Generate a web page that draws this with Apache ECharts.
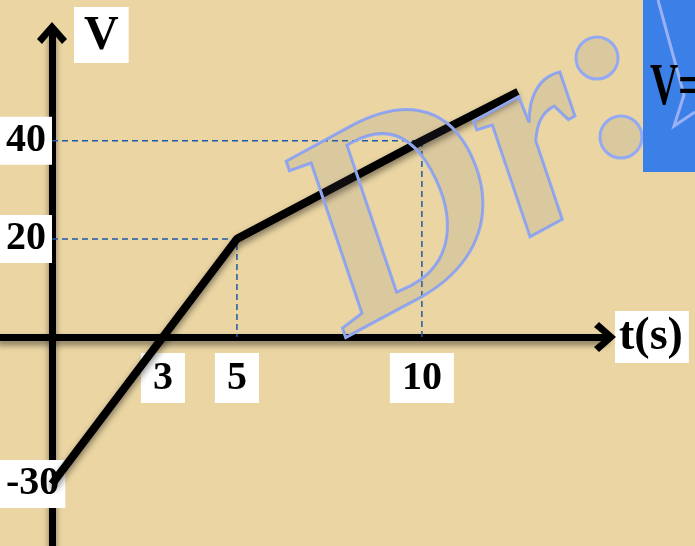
<!DOCTYPE html>
<html>
<head>
<meta charset="utf-8">
<script src="https://cdn.jsdelivr.net/npm/echarts@6/dist/echarts.min.js"></script>
<style>
  html, body { margin: 0; padding: 0; }
  #chart { width: 695px; height: 546px; }
</style>
</head>
<body>
<div id="chart"></div>
<script>
// velocity - time data (from the labelled points)
const timeValues = [0, 5, 10, 12.6];
const velocityValues = [-30, 20, 40, 50];
// tick labels shown on the axes
const timeTicks = [3, 5, 10];
const velocityTicks = [-30, 20, 40];
// dashed guide lines (t, v)
const guideTimes = [5, 10];
const guideVelocities = [20, 40];

const labelFont = '"Liberation Serif", "Times New Roman", serif';
const chevron = 'path://M0,17 L15,0 L30,17 L25,22 L15,10 L5,22 Z';

// 曲线数据
const lineData = timeValues.map((t, i) => [t, velocityValues[i]]);

// 虚线辅助线
const guideSeries = guideTimes.map((t, i) => ({
  type: 'line',
  data: [[0, guideVelocities[i]], [t, guideVelocities[i]], [t, 0]],
  showSymbol: false,
  silent: true,
  z: 2,
  lineStyle: { color: '#1d5aa6', width: 1.5, type: [6, 4] }
}));

const chart = echarts.init(document.getElementById('chart'));

const axisLineStyle = {
  color: '#000',
  width: 7,
  shadowBlur: 6,
  shadowColor: 'rgba(0,0,0,0.45)',
  shadowOffsetY: 4
};

const watermarkStroke = '#93a9f4';
const watermarkFill = 'rgba(110,110,120,0.12)';

chart.setOption({
  backgroundColor: '#ead5a3',
  animation: false,
  grid: { left: 0, right: 90, top: 33, bottom: 0, outerBoundsMode: 'none', containLabel: false },
  xAxis: {
    type: 'value',
    min: -1.405,
    max: 14.95,
    position: 'bottom',
    offset: -209,
    name: 't(s)',
    nameLocation: 'end',
    nameGap: 10,
    nameTextStyle: {
      fontFamily: labelFont,
      fontWeight: 'bold',
      fontSize: 46,
      color: '#000',
      backgroundColor: '#fff',
      padding: [3, 6, 3, 4]
    },
    axisLine: {
      onZero: false,
      symbol: ['none', chevron],
      symbolSize: [30, 22],
      lineStyle: axisLineStyle
    },
    axisTick: { show: false },
    splitLine: { show: false },
    axisLabel: {
      customValues: timeTicks,
      margin: 16,
      fontFamily: labelFont,
      fontWeight: 'bold',
      fontSize: 40,
      color: '#000',
      backgroundColor: '#fff',
      padding: [6, 12, 4, 12]
    }
  },
  yAxis: {
    type: 'value',
    min: -42.65,
    max: 62,
    position: 'left',
    offset: -52,
    name: '{b|V}',
    nameLocation: 'end',
    nameGap: 26,
    nameTextStyle: {
      align: 'left',
      verticalAlign: 'top',
      padding: [0, 0, 0, 22],
      rich: {
        b: {
          fontFamily: labelFont,
          fontWeight: 'bold',
          fontSize: 48,
          color: '#000',
          backgroundColor: '#fff',
          padding: [6, 10, 2, 10]
        }
      }
    },
    axisLine: {
      onZero: false,
      symbol: ['none', chevron],
      symbolSize: [30, 22],
      lineStyle: axisLineStyle
    },
    axisTick: { show: false },
    splitLine: { show: false },
    axisLabel: {
      customValues: velocityTicks,
      margin: 52,
      align: 'left',
      fontFamily: labelFont,
      fontWeight: 'bold',
      fontSize: 40,
      color: '#000',
      backgroundColor: '#fff',
      padding: [5, 6, 3, 6]
    }
  },
  series: [
    ...guideSeries,
    {
      type: 'line',
      data: lineData,
      showSymbol: false,
      z: 3,
      lineStyle: {
        color: '#000',
        width: 8,
        shadowBlur: 6,
        shadowColor: 'rgba(0,0,0,0.45)',
        shadowOffsetY: 4
      }
    }
  ],
  graphic: [
    {
      type: 'text',
      x: 380,
      y: 396,
      rotation: 0.5,
      z: 100,
      silent: true,
      style: {
        text: 'Dr',
        font: 'italic bold 280px ' + labelFont,
        fill: watermarkFill,
        stroke: watermarkStroke,
        lineWidth: 3,
        verticalAlign: 'bottom',
        shadowBlur: 8,
        shadowColor: 'rgba(0,0,0,0.3)'
      }
    },
    {
      type: 'circle',
      z: 100,
      silent: true,
      shape: { cx: 597, cy: 58, r: 21 },
      style: { fill: watermarkFill, stroke: watermarkStroke, lineWidth: 3 }
    },
    {
      type: 'circle',
      z: 100,
      silent: true,
      shape: { cx: 621, cy: 137, r: 21 },
      style: { fill: watermarkFill, stroke: watermarkStroke, lineWidth: 3 }
    },
    {
      type: 'rect',
      z: 101,
      silent: true,
      shape: { x: 643, y: 0, width: 52, height: 172 },
      style: { fill: '#3a80e6' }
    },
    {
      type: 'polyline',
      z: 102,
      silent: true,
      shape: { points: [[658, 0], [684, 95], [674, 126], [695, 112]] },
      style: { stroke: '#9ab0f5', lineWidth: 3, fill: null }
    },
    {
      type: 'text',
      z: 103,
      silent: true,
      x: 650,
      y: 58,
      scaleX: 0.65,
      style: {
        text: 'V=',
        font: 'bold 60px ' + labelFont,
        fill: '#000'
      }
    }
  ]
});

window.addEventListener('resize', () => chart.resize());
</script>
</body>
</html>
